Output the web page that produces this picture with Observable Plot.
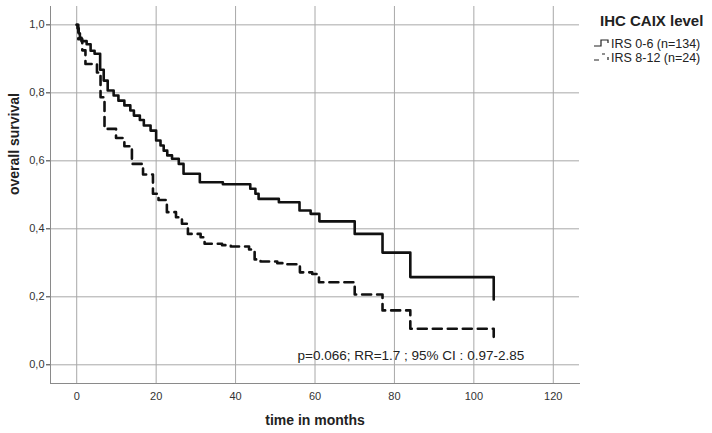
<!DOCTYPE html>
<html>
<head>
<meta charset="utf-8">
<script src="https://cdn.jsdelivr.net/npm/d3@7"></script>
<script src="https://cdn.jsdelivr.net/npm/@observablehq/plot@0.6"></script>
<style>
  html, body { margin: 0; padding: 0; background: #fff; }
  #chart { width: 712px; height: 433px; }
  svg { font-family: "Liberation Sans", Arial, sans-serif; }
</style>
</head>
<body>
<div id="chart"></div>
<script>
// Group 1: IRS 0-6 (n=134) — Kaplan-Meier steps
const lowTime = [0, 0.2, 0.5, 0.8, 1.2, 2.5, 3.5, 4.5, 5.9, 6.8, 7.8, 9.3, 10.5, 12, 13.5, 14.4, 15.9, 16.9, 18.6, 20, 21.1, 21.9, 22.8, 24, 25.7, 26.9, 31, 36.8, 43.7, 45, 45.8, 50.9, 56.1, 58.9, 61.1, 70, 77, 84, 105];
const lowSurv = [1.0, 0.99, 0.975, 0.962, 0.952, 0.943, 0.924, 0.915, 0.868, 0.836, 0.807, 0.792, 0.777, 0.763, 0.748, 0.733, 0.72, 0.704, 0.689, 0.66, 0.645, 0.63, 0.616, 0.606, 0.591, 0.562, 0.537, 0.531, 0.518, 0.503, 0.488, 0.478, 0.454, 0.444, 0.422, 0.385, 0.33, 0.258, 0.192];

// Group 2: IRS 8-12 (n=24)
const highTime = [0, 0.4, 1.4, 2.2, 5.1, 6, 7, 9.9, 12, 13.9, 16.7, 19.2, 20.6, 22.7, 25, 26.5, 28, 31.2, 32.2, 36.6, 38.8, 43.4, 44.8, 46.3, 50.5, 53, 56.2, 59.3, 61, 70, 77, 84, 105];
const highSurv = [1.0, 0.958, 0.925, 0.885, 0.86, 0.787, 0.694, 0.667, 0.643, 0.591, 0.56, 0.503, 0.485, 0.449, 0.434, 0.415, 0.385, 0.375, 0.356, 0.352, 0.348, 0.339, 0.31, 0.304, 0.299, 0.296, 0.272, 0.267, 0.243, 0.207, 0.16, 0.106, 0.066];

const seriesNames = ["IRS 0-6 (n=134)", "IRS 8-12 (n=24)"];
const legendTitle = "IHC CAIX level";
const xTicks = [0, 20, 40, 60, 80, 100, 120];
const yTicks = [0, 0.2, 0.4, 0.6, 0.8, 1.0];
const annotation = ["p=0.066; RR=1.7 ; 95% CI : 0.97-2.85"];
const annotationPos = [55.6, 0.028];

const lowData = lowTime.map((t, i) => ({time: t, surv: lowSurv[i]}));
const highData = highTime.map((t, i) => ({time: t, surv: highSurv[i]}));

const plot = Plot.plot({
  width: 712,
  height: 433,
  marginLeft: 50,
  marginRight: 133,
  marginTop: 6,
  marginBottom: 50,
  style: {fontFamily: "'Liberation Sans', Arial, sans-serif", background: "#fff"},
  x: {domain: [-6.6, 126.6]},
  y: {domain: [-0.055, 1.054]},
  marks: [
    Plot.ruleX(xTicks, {stroke: "#a8a8a8", strokeWidth: 1}),
    Plot.ruleY(yTicks, {stroke: "#a8a8a8", strokeWidth: 1}),
    Plot.axisX({ticks: xTicks, tickSize: 0, tickPadding: 9, fontSize: 11, color: "#333", label: null, tickFormat: d => String(d)}),
    Plot.axisY({ticks: yTicks, tickSize: 4, tickPadding: 2, fontSize: 11, color: "#333", label: null, tickFormat: d => d3.format(".1f")(d).replace(".", ",")}),
    Plot.frame({anchor: "left", stroke: "#8a8a8a"}),
    Plot.frame({anchor: "bottom", stroke: "#8a8a8a"}),
    Plot.line(lowData, {x: "time", y: "surv", curve: "step-after", stroke: "#111", strokeWidth: 2.6}),
    Plot.line(highData, {x: "time", y: "surv", curve: "step-after", stroke: "#111", strokeWidth: 2.6, strokeDasharray: "9,6"}),
    Plot.text(annotation, {x: () => annotationPos[0], y: () => annotationPos[1], text: d => d, textAnchor: "start", fontSize: 13.5, fill: "#222"}),
    Plot.text(["overall survival"], {frameAnchor: "left", dx: -36, rotate: -90, fontSize: 14, fontWeight: "bold", fill: "#222"}),
    Plot.text(["time in months"], {frameAnchor: "bottom", dy: 41, fontSize: 14, fontWeight: "bold", fill: "#222"})
  ]
});

document.getElementById("chart").appendChild(plot);

// Legend drawn into the same SVG
const svg = d3.select(plot);
const g = svg.append("g")
  .attr("font-family", "'Liberation Sans', Arial, sans-serif")
  .attr("text-anchor", "start");
g.append("text").attr("x", 600).attr("y", 26).attr("text-anchor", "start")
  .attr("font-size", 15).attr("font-weight", "bold").attr("fill", "#222").text(legendTitle);
const rowsY = [43, 57];
seriesNames.forEach((name, i) => {
  const y = rowsY[i];
  g.append("text").attr("x", 611).attr("y", y + 4.5).attr("text-anchor", "start")
    .attr("font-size", 12.5).attr("fill", "#222").text(name);
});
// symbols
g.append("path").attr("d", `M594,${rowsY[0]+3} H601 V${rowsY[0]-3} H608 V${rowsY[0]}`)
  .attr("fill", "none").attr("stroke", "#222").attr("stroke-width", 1.2);
g.append("path").attr("d", `M594,${rowsY[1]+3} H599 M602,${rowsY[1]-3} H605 M608,${rowsY[1]} V${rowsY[1]+3}`)
  .attr("fill", "none").attr("stroke", "#222").attr("stroke-width", 1.2);
</script>
</body>
</html>
